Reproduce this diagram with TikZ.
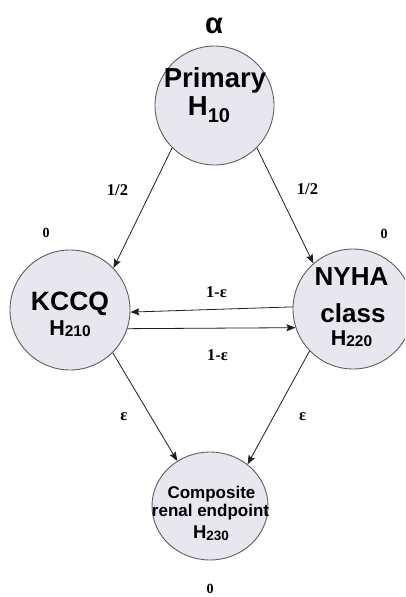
\documentclass[tikz,border=0pt]{standalone}
\usepackage{fontspec}
\setmainfont{Liberation Sans}
\newfontfamily\serifb{Liberation Serif}[BoldFont={* Bold}]
\usetikzlibrary{arrows.meta,shapes.geometric}
\definecolor{nodefill}{RGB}{232,230,238}
\definecolor{nodeline}{RGB}{95,95,95}
\definecolor{arrline}{RGB}{30,30,30}
\newcommand{\fs}[1]{\fontsize{#1}{#1}\selectfont}
\newcommand{\subtxt}[3]{\raisebox{-#2pt}{\fs{#1}#3}}
\tikzset{
  hnode/.style={circle,draw=nodeline,fill=nodefill,line width=0.9pt,inner sep=0pt},
  cnode/.style={ellipse,draw=nodeline,fill=nodefill,line width=0.9pt,inner sep=0pt,minimum width=116pt,minimum height=108pt},
  ntext/.style={anchor=base,inner sep=0pt,font=\bfseries},
  elab/.style={anchor=base,inner sep=0pt,font=\serifb\bfseries\fs{16.5}},
  zlab/.style={anchor=base,inner sep=0pt,font=\serifb\bfseries\fs{14}},
  arr/.style={draw=arrline,line width=0.8pt,-{Stealth[length=9pt,width=7pt,inset=1.5pt]}}
}
\begin{document}
\begin{tikzpicture}[x=1pt,y=-1pt]
\useasboundingbox (0,0) rectangle (405,597);
\clip (0,0) rectangle (405,597);
% nodes
\node[hnode,minimum size=119pt] (P) at (214.5,105.5) {};
\node[hnode,minimum size=120pt] (K) at (70,310) {};
\node[hnode,minimum size=120pt] (N) at (353,309) {};
\node[cnode] (C) at (210,506) {};
% node texts
\node[ntext,font=\bfseries\fs{27.5}] (Pt1) at (215,87) {Primary};
\node[ntext,font=\bfseries\fs{27.5}] (Pt2) at (209,115) {H\subtxt{20}{7}{10}};
\node[ntext,font=\bfseries\fs{26.5}] (Kt1) at (70,310) {KCCQ};
\node[ntext,font=\bfseries\fs{21.5}] (Kt2) at (70,335) {H\subtxt{15.5}{1.5}{210}};
\node[ntext,font=\bfseries\fs{26}] (Nt1) at (351.5,285) {NYHA};
\node[ntext,font=\bfseries\fs{26}] (Nt2) at (353,322) {class};
\node[ntext,font=\bfseries\fs{21.5}] (Nt3) at (351.5,345) {H\subtxt{15.5}{1.5}{220}};
\node[ntext,font=\bfseries\fs{17}] (Ct1) at (211.5,498) {Composite};
\node[ntext,font=\bfseries\fs{17}] (Ct2) at (210.5,516) {renal endpoint};
\node[ntext,font=\bfseries\fs{18.5}] (Ct3) at (211,538) {H\subtxt{13.5}{2}{230}};
% weights
\node[ntext,font=\bfseries\fs{29}] (alpha) at (214,33) {α};
\node[zlab] (z1) at (46,237) {0};
\node[zlab] (z2) at (384,238) {0};
\node[zlab] (z3) at (210,593) {0};
% arrows
\draw[arr] (P.225) -- (K.44);
\draw[arr] (P.315) -- (N.131);
\draw[arr] (N.178) -- (K.358);
\draw[arr] (K.342) -- (N.198);
\draw[arr] (K.-45) -- (C.126);
\draw[arr] (N.224) -- (C.48);
% edge labels
\node[elab] (e1) at (117.5,195) {1/2};
\node[elab] (e2) at (307.5,194) {1/2};
\node[elab] (e3) at (216.5,297) {1-ε};
\node[elab] (e4) at (217.5,360) {1-ε};
\node[elab] (e5) at (124,420) {ε};
\node[elab] (e6) at (302.7,420) {ε};
\end{tikzpicture}
\end{document}
